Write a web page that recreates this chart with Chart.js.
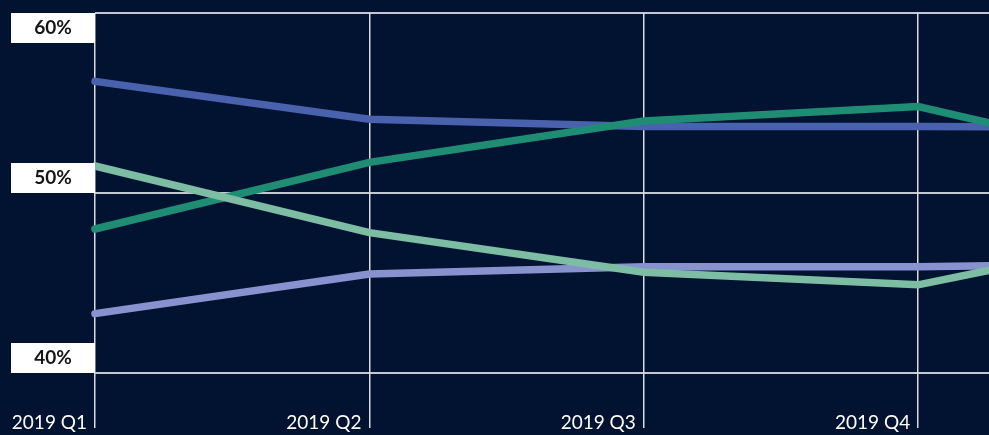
<!DOCTYPE html>
<html>
<head>
<meta charset="utf-8">
<script src="https://cdn.jsdelivr.net/npm/chart.js@4/dist/chart.umd.min.js"></script>
<style>
  html, body { margin: 0; padding: 0; background: #011330; }
  #wrap { width: 989px; height: 435px; position: relative; }
</style>
</head>
<body>
<div id="wrap"><canvas id="chart"></canvas></div>
<script>
// quarters (the last one sits past the right edge of the picture)
var quarters = ['2019 Q1', '2019 Q2', '2019 Q3', '2019 Q4', '2020 Q1'];
var yTicks = [40, 50, 60];

// series values, in percent
var seriesDarkBlue  = [56.2, 54.1, 53.7, 53.7, 53.6];
var seriesTeal      = [48.0, 51.7, 54.0, 54.8, 51.3];
var seriesLightTeal = [51.5, 47.8, 45.6, 44.9, 48.0];
var seriesLavender  = [43.3, 45.5, 45.9, 45.9, 46.1];

var fontFamily = 'Lato, "Open Sans", sans-serif';

function toPoints(values) {
    return values.map(function (v, i) { return { x: i, y: v }; });
}

function lineSet(values, color) {
    return {
        data: toPoints(values),
        borderColor: color,
        backgroundColor: color,
        borderWidth: 7.5,
        borderCapStyle: 'round',
        pointRadius: 0,
        pointHoverRadius: 0,
        tension: 0,
        clip: { left: 6, top: 6, right: 0, bottom: 6 }
    };
}

// white boxes for the y ticks and the x labels left of the ticks
var labelsPlugin = {
    id: 'labels',
    afterDraw: function (chart) {
        var ctx = chart.ctx,
            area = chart.chartArea,
            ys = chart.scales.y,
            xs = chart.scales.x;

        ctx.save();
        yTicks.forEach(function (t) {
            var py = ys.getPixelForValue(t);
            var top = Math.max(py - 30, area.top);
            ctx.fillStyle = '#ffffff';
            ctx.fillRect(11, top, area.left - 11, 30);
            ctx.fillStyle = '#151515';
            ctx.font = 'bold 19px ' + fontFamily;
            ctx.textAlign = 'center';
            ctx.textBaseline = 'middle';
            ctx.fillText(t + '%', (11 + area.left) / 2, top + 15);
        });

        ctx.fillStyle = '#ffffff';
        ctx.font = '19px ' + fontFamily;
        ctx.textAlign = 'right';
        ctx.textBaseline = 'alphabetic';
        quarters.forEach(function (q, i) {
            var px = xs.getPixelForValue(i);
            if (px < chart.width) {
                ctx.fillText(q, px - 8, 429);
            }
        });
        ctx.restore();
    }
};

var ctx = document.getElementById('chart');
new Chart(ctx, {
    type: 'line',
    data: {
        datasets: [
            lineSet(seriesLightTeal, '#7dbda3'),
            lineSet(seriesTeal, '#1f8c74'),
            lineSet(seriesLavender, '#8892cf'),
            lineSet(seriesDarkBlue, '#4a61ad')
        ]
    },
    options: {
        responsive: true,
        maintainAspectRatio: false,
        animation: false,
        layout: { padding: { left: 95, top: 13, right: 0, bottom: 7 } },
        plugins: { legend: { display: false }, tooltip: { enabled: false } },
        scales: {
            x: {
                type: 'linear',
                min: 0,
                max: 3.258,
                afterBuildTicks: function (axis) {
                    axis.ticks = quarters.map(function (q, i) { return { value: i }; });
                },
                ticks: { display: false },
                border: { display: false },
                grid: {
                    color: 'rgba(255,255,255,0.85)',
                    lineWidth: 1.5,
                    drawTicks: true,
                    tickLength: 55
                }
            },
            y: {
                min: 40,
                max: 60,
                afterBuildTicks: function (axis) {
                    axis.ticks = yTicks.map(function (t) { return { value: t }; });
                },
                ticks: { display: false, padding: 0 },
                border: { display: false },
                grid: {
                    color: 'rgba(215,219,228,0.9)',
                    lineWidth: 2,
                    drawTicks: false
                }
            }
        }
    },
    plugins: [labelsPlugin]
});
</script>
</body>
</html>
